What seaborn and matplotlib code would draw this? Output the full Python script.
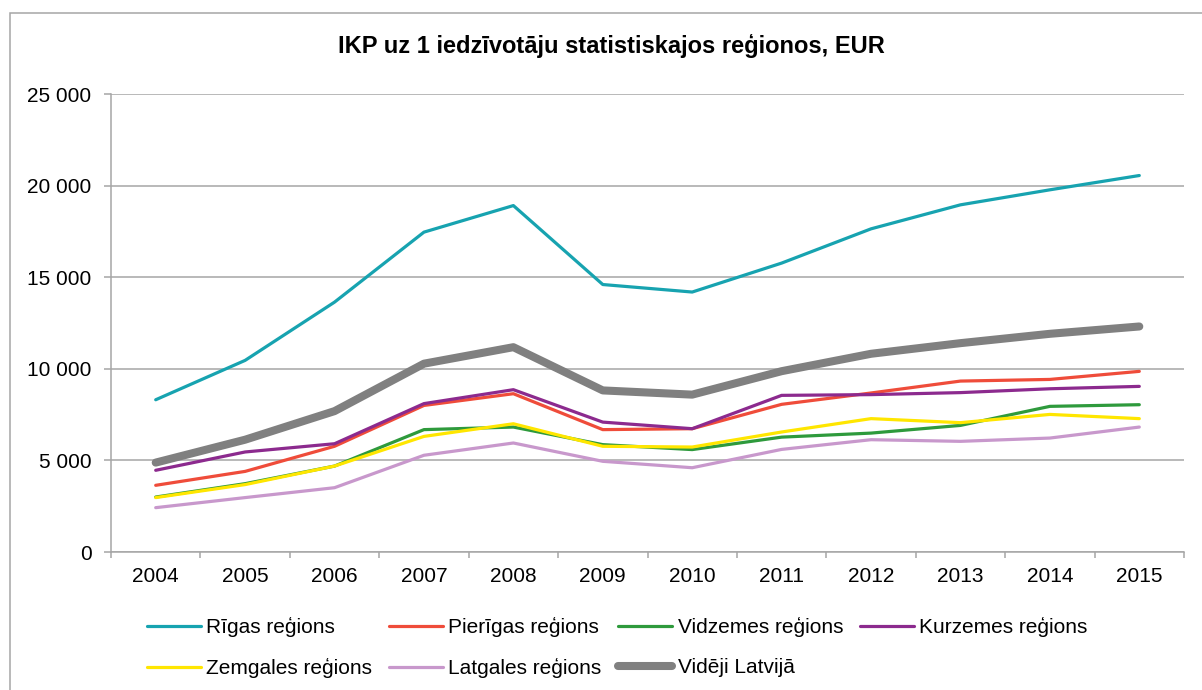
import pandas as pd
import seaborn as sns
import matplotlib.pyplot as plt
from matplotlib.patches import Rectangle
from matplotlib.ticker import FuncFormatter, FixedLocator

# IKP uz 1 iedzīvotāju, EUR (nolasīts no attēla)
years = list(range(2004, 2016))
riga = [8310, 10460, 13640, 17460, 18910, 14600, 14190, 15770, 17640, 18950, 19770, 20550]
pieriga = [3640, 4400, 5770, 8000, 8640, 6680, 6730, 8060, 8680, 9330, 9420, 9860]
vidzeme = [3000, 3730, 4690, 6680, 6820, 5860, 5590, 6270, 6490, 6910, 7950, 8040]
kurzeme = [4460, 5460, 5910, 8100, 8860, 7090, 6730, 8550, 8590, 8700, 8910, 9040]
zemgale = [2970, 3680, 4690, 6310, 7000, 5770, 5730, 6550, 7280, 7060, 7510, 7280]
latgale = [2420, 2970, 3510, 5280, 5950, 4950, 4600, 5600, 6130, 6040, 6220, 6820]
latvija = [4880, 6130, 7690, 10280, 11180, 8820, 8590, 9870, 10820, 11400, 11910, 12310]

names = ['Rīgas reģions', 'Pierīgas reģions', 'Vidzemes reģions', 'Kurzemes reģions',
         'Zemgales reģions', 'Latgales reģions', 'Vidēji Latvijā']
series = [riga, pieriga, vidzeme, kurzeme, zemgale, latgale, latvija]
colors = ['#17a3b0', '#ef4c3a', '#2e9a3c', '#8c2a8e', '#ffe600', '#c898cc', '#808080']
widths = [2.3, 2.3, 2.3, 2.3, 2.3, 2.3, 5.8]

title = 'IKP uz 1 iedzīvotāju statistiskajos reģionos, EUR'
grid_col = '#a6a6a6'

df = pd.DataFrame({'year': years * len(names),
                   'region': [n for n in names for _ in years],
                   'value': [v for s in series for v in s]})

sns.set_style('white')
plt.rcParams['font.family'] = ['Liberation Sans', 'DejaVu Sans']
plt.rcParams['text.color'] = 'black'

fig = plt.figure(figsize=(12.02, 6.9), dpi=100)
ax = fig.add_axes([111 / 1202, 1 - 552 / 690, (1184 - 111) / 1202, (552 - 94) / 690])

for name, col, lw in zip(names, colors, widths):
    sns.lineplot(data=df[df.region == name], x='year', y='value', color=col,
                 linewidth=lw, label=name, ax=ax, solid_capstyle='round')

ax.set_xlim(2003.5, 2015.5)
ax.set_ylim(0, 25000)
ax.set_yticks(range(0, 25001, 5000))
ax.yaxis.set_major_formatter(FuncFormatter(lambda v, p: f'{int(v):,}'.replace(',', ' ')))
ax.set_xticks(years)
ax.xaxis.set_minor_locator(FixedLocator([y - 0.5 for y in years] + [2015.5]))
ax.set_xlabel('')
ax.set_ylabel('')

ax.grid(axis='y', color=grid_col, linewidth=1.1)
ax.grid(axis='x', visible=False)
ax.set_axisbelow(True)
for s in ['top', 'right']:
    ax.spines[s].set_visible(False)
for s in ['left', 'bottom']:
    ax.spines[s].set_color(grid_col)
    ax.spines[s].set_linewidth(1.1)

ax.tick_params(axis='y', which='major', length=5, width=1.1, color=grid_col,
               pad=9, labelsize=15, labelcolor='black', left=True)
ax.tick_params(axis='x', which='major', length=0, pad=11, labelsize=15, labelcolor='black')
ax.tick_params(axis='x', which='minor', length=4.3, width=1.1, color=grid_col, bottom=True)

handles, labels = ax.get_legend_handles_labels()
ax.get_legend().remove()
order = [0, 4, 1, 5, 2, 6, 3]
fig.legend([handles[i] for i in order], [labels[i] for i in order],
           ncol=4, loc='upper left', bbox_to_anchor=(147 / 1202, 1 - 617 / 690),
           frameon=False, fontsize=15, handlelength=2.6, handletextpad=0.25,
           columnspacing=0.8, labelspacing=1.0, borderpad=0, borderaxespad=0,
           labelcolor='black')

fig.text(611 / 1202, 1 - 46 / 690, title, ha='center', va='center',
         fontsize=17, fontweight='bold', color='black')

fig.add_artist(Rectangle((10 / 1202, -0.1), 1.2, 1 - 13 / 690 + 0.1,
                         transform=fig.transFigure, fill=False,
                         edgecolor=grid_col, linewidth=1.1))

fig.savefig('out.png', dpi=100)
